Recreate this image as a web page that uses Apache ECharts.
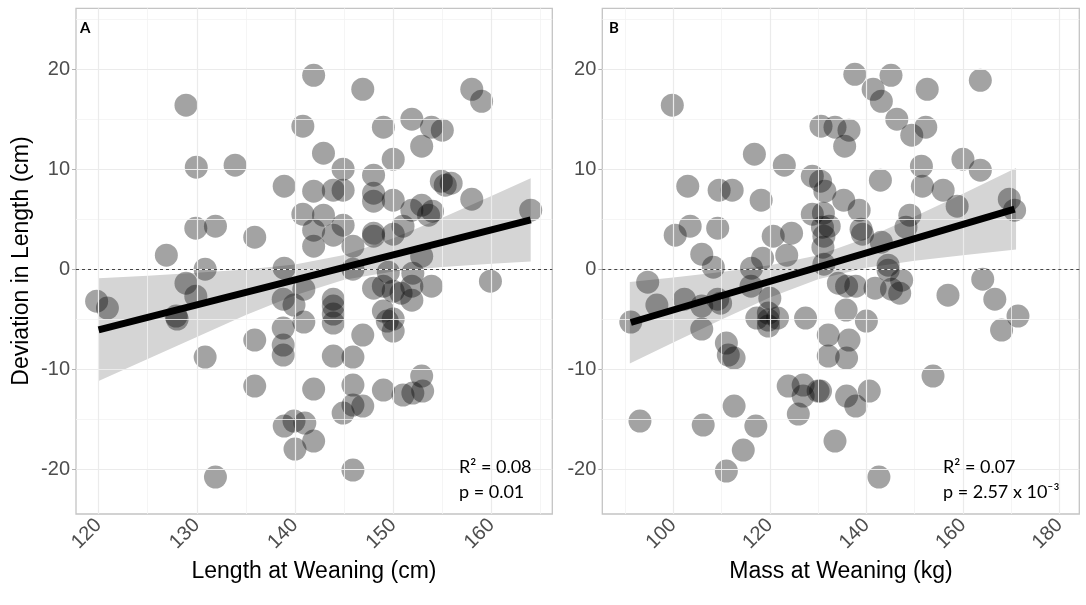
<!DOCTYPE html>
<html><head><meta charset="utf-8">
<script src="https://cdn.jsdelivr.net/npm/echarts@6/dist/echarts.min.js"></script>
<style>html,body{margin:0;padding:0;background:#fff}#c{width:1086px;height:605px}</style>
</head><body><div id="c"></div>
<script>
// Panel A: Length at weaning (cm) vs deviation in length (cm)
const lengthX = [119.8,120.9,126.9,127.9,128.0,128.9,128.9,129.9,129.95,129.9,
  130.85,130.85,131.9,131.9,133.9,135.9,135.9,135.9,138.9,138.9,
  138.8,139.9,138.8,138.8,138.8,138.9,139.9,140.0,140.8,140.8,
  140.9,140.9,141.0,141.9,141.9,141.9,141.9,141.9,141.9,142.9,
  142.9,143.9,143.9,143.9,143.9,143.9,143.9,143.9,144.9,144.9,
  144.9,144.9,145.9,145.9,145.9,145.9,145.9,145.9,146.9,146.9,
  146.9,148.0,148.0,148.0,148.0,148.0,148.0,149.0,149.0,149.0,
  149.0,149.4,150.0,150.0,150.0,150.0,150.0,150.0,150.8,151.0,
  151.0,151.9,151.9,151.9,151.9,152.0,152.9,152.9,152.9,152.9,
  153.0,153.9,154.0,153.9,155.0,154.9,155.9,158.0,158.0,159.0,
  159.9,164.0,149.5,152.0,155.3,153.6];
const lengthDev = [-3.2,-3.9,1.4,-4.7,-5.0,16.4,-1.4,-2.7,10.2,4.1,
  0.0,-8.8,4.3,-20.8,10.4,3.2,-7.1,-11.7,8.3,0.1,
  -3.0,-3.6,-5.9,-7.6,-8.6,-15.7,-15.2,-18.0,14.3,5.5,
  -2.0,-5.3,-15.4,19.4,7.8,3.9,2.3,-12.0,-17.2,11.6,
  5.4,3.4,7.9,-3.0,-3.7,-4.5,-5.4,-8.7,10.0,7.9,
  4.4,-14.4,2.3,0.0,-8.8,-11.6,-13.6,-20.1,18.0,-6.6,
  -13.7,9.4,7.6,6.8,3.6,3.3,-1.9,14.2,-1.7,-4.2,
  -12.1,-5.2,11.0,6.9,3.5,-2.2,-5.0,-6.2,-2.4,4.3,
  -12.6,15.0,5.9,-1.7,-3.1,-12.4,12.3,6.4,1.3,-10.7,
  -12.2,14.2,5.8,-1.7,13.9,8.8,8.6,7.0,18.0,16.8,
  -1.2,5.9,-0.3,-0.4,8.4,5.4];

// Panel B: Mass at weaning (kg) vs deviation in length (cm)
const massX = [91.2,93.1,94.7,96.6,99.8,100.4,102.3,103.0,103.5,105.9,
  105.9,105.9,106.2,108.3,109.2,109.5,109.2,109.8,111.0,111.4,
  112.6,111.0,112.2,112.6,114.5,116.2,116.1,116.8,117.1,117.3,
  118.2,118.5,119.7,119.7,119.7,120.0,120.7,121.6,123.0,123.5,
  124.5,123.8,125.9,126.9,126.9,127.4,128.8,128.8,130.0,130.5,
  130.6,130.5,131.4,131.1,130.9,132.3,131.2,131.0,131.2,132.1,
  132.1,133.5,133.5,134.2,135.5,135.3,135.9,135.8,135.9,135.9,
  136.4,136.4,137.6,137.8,137.8,138.5,138.9,139.2,140.0,140.6,
  141.4,141.8,142.6,142.9,143.1,143.1,144.5,144.5,145.1,145.2,
  146.3,146.9,147.3,148.2,149.0,149.4,151.4,151.6,152.3,152.6,
  153.8,155.9,156.9,158.8,160.0,163.6,163.6,164.1,166.6,168.0,
  169.6,170.7,171.4];
const massDev = [-5.3,-15.2,-1.3,-3.6,16.4,3.4,-3.0,8.3,4.3,1.5,
  -3.7,-6.0,-15.6,0.2,4.1,7.9,-3.0,-3.4,-7.4,-8.6,
  -8.9,-20.2,7.9,-13.7,-18.1,0.1,-1.7,11.5,-15.7,-4.9,
  6.9,1.1,-4.4,-5.1,-5.7,-2.9,3.3,-4.9,10.4,1.4,
  3.6,-11.7,-14.5,-11.6,-12.7,-4.9,9.3,5.5,-12.2,-12.2,
  14.3,8.8,7.8,5.6,4.2,4.3,3.3,2.2,0.5,-6.6,
  -8.7,-17.2,14.2,-1.4,12.3,6.9,-1.7,-4.1,-8.9,-12.7,
  13.9,-7.1,19.5,-1.7,-13.7,5.9,4.0,3.5,-5.2,-12.2,
  18.0,-1.9,-20.8,8.9,16.8,2.7,0.4,-0.1,19.4,-2.0,
  15.0,-2.4,-1.1,4.2,5.4,13.4,10.3,8.3,14.2,18.0,
  -10.7,7.9,-2.6,6.3,11.0,18.9,9.9,-1.0,-3.0,-6.1,
  7.0,5.9,-4.7];

// Fitted lines and 95% confidence bands
const fitLengthX = [120, 164];
const fitLengthY = [-6.07, 4.93];
const bandLengthX  = [120, 125, 130, 135, 140, 145, 150, 155, 160, 164];
const bandLengthLo = [-11.2, -9.0, -6.8, -4.6, -2.6, -1.05, -0.23, 0.21, 0.54, 0.76];
const bandLengthHi = [-0.9, -0.65, -0.37, -0.03, 0.46, 1.41, 3.09, 5.15, 7.32, 9.1];

const fitMassX = [91.2, 170.7];
const fitMassY = [-5.34, 6.0];
const bandMassX  = [91, 100, 110, 120, 130, 140, 150, 160, 171];
const bandMassLo = [-9.45, -7.34, -5.03, -2.84, -1.01, 0.13, 0.84, 1.4, 1.96];
const bandMassHi = [-1.29, -0.84, -0.29, 0.38, 1.39, 3.11, 5.26, 7.54, 10.12];

// Ticks and grid lines
const yTicks = [-20, -10, 0, 10, 20];
const yMinor = [-15, -5, 5, 15, 25];
const lengthTicks = [120, 130, 140, 150, 160];
const lengthMinor = [125, 135, 145, 155, 165];
const massTicks = [100, 120, 140, 160, 180];
const massMinor = [90, 110, 130, 150, 170];

const chart = echarts.init(document.getElementById('c'), null, {renderer: 'canvas'});
const FONT = 'Liberation Sans';

function xAxis(idx, min, max, ticks) {
  return {
    type: 'value', gridIndex: idx, min: min, max: max,
    axisLine: {show: false}, splitLine: {show: false},
    axisTick: {show: true, customValues: ticks, length: 4, lineStyle: {color: '#b3b3b3', width: 1}},
    axisLabel: {customValues: ticks, rotate: 45, fontSize: 20, color: '#4d4d4d', fontFamily: FONT, margin: 8}
  };
}
function yAxis(idx) {
  return {
    type: 'value', gridIndex: idx, min: -24.5, max: 26.1,
    axisLine: {show: false}, splitLine: {show: false},
    axisTick: {show: true, customValues: yTicks, length: 4, lineStyle: {color: '#b3b3b3', width: 1}},
    axisLabel: {customValues: yTicks, fontSize: 20, color: '#4d4d4d', fontFamily: FONT, margin: 6}
  };
}
function gridLines(idx, xMajor, xMinor) {
  const data = [];
  xMinor.forEach(v => data.push({xAxis: v, lineStyle: {color: '#f2f2f2', width: 0.8, type: 'solid'}}));
  yMinor.forEach(v => data.push({yAxis: v, lineStyle: {color: '#f2f2f2', width: 0.8, type: 'solid'}}));
  xMajor.forEach(v => data.push({xAxis: v, lineStyle: {color: '#ebebeb', width: 1.2, type: 'solid'}}));
  yTicks.forEach(v => data.push({yAxis: v, lineStyle: {color: '#ebebeb', width: 1.2, type: 'solid'}}));
  return {
    type: 'line', xAxisIndex: idx, yAxisIndex: idx, data: [], z: 1, silent: true,
    markLine: {silent: true, symbol: ['none', 'none'], label: {show: false}, animation: false, data: data}
  };
}
function zeroLine(idx) {
  return {
    type: 'line', xAxisIndex: idx, yAxisIndex: idx, data: [], z: 3, silent: true,
    markLine: {silent: true, symbol: ['none', 'none'], label: {show: false}, animation: false,
      data: [{yAxis: 0, lineStyle: {color: '#444', width: 1, type: [3, 3]}}]}
  };
}
function band(idx, bx, lo, hi) {
  return {
    type: 'custom', xAxisIndex: idx, yAxisIndex: idx, z: 2, silent: true, data: [[bx[0], lo[0]]],
    renderItem: function (params, api) {
      const pts = [];
      for (let i = 0; i < bx.length; i++) pts.push(api.coord([bx[i], hi[i]]));
      for (let i = bx.length - 1; i >= 0; i--) pts.push(api.coord([bx[i], lo[i]]));
      return {type: 'polygon', shape: {points: pts, smooth: 0}, style: {fill: '#d5d5d5'}};
    }
  };
}
function points(idx, xs, ys) {
  return {
    type: 'scatter', xAxisIndex: idx, yAxisIndex: idx, z: 4, symbol: 'circle', symbolSize: 23,
    data: xs.map((x, i) => [x, ys[i]]),
    itemStyle: {color: 'rgba(0,0,0,0.45)', borderWidth: 0}
  };
}
function fit(idx, xs, ys) {
  return {
    type: 'line', xAxisIndex: idx, yAxisIndex: idx, z: 5, symbol: 'none', silent: true,
    data: xs.map((x, i) => [x, ys[i]]),
    lineStyle: {color: '#000', width: 7, cap: 'butt'}
  };
}
function txt(x, y, text, opts) {
  return Object.assign({type: 'text', x: x, y: y, silent: true, z: 10,
    style: Object.assign({text: text, fill: '#000', fontFamily: FONT, fontSize: 23, align: 'left', verticalAlign: 'middle'}, opts || {})});
}

chart.setOption({
  animation: false,
  backgroundColor: '#fff',
  grid: [
    {left: 76, right: 533.7, top: 8.3, bottom: 91, show: true, borderColor: '#c4c4c4', borderWidth: 1.3, backgroundColor: '#fff'},
    {left: 602.3, right: 6.7, top: 8.3, bottom: 91, show: true, borderColor: '#c4c4c4', borderWidth: 1.3, backgroundColor: '#fff'}
  ],
  xAxis: [xAxis(0, 117.7, 166.2, lengthTicks), xAxis(1, 85.3, 184.1, massTicks)],
  yAxis: [yAxis(0), yAxis(1)],
  series: [
    gridLines(0, lengthTicks, lengthMinor), gridLines(1, massTicks, massMinor),
    band(0, bandLengthX, bandLengthLo, bandLengthHi), band(1, bandMassX, bandMassLo, bandMassHi),
    zeroLine(0), zeroLine(1),
    points(0, lengthX, lengthDev), points(1, massX, massDev),
    fit(0, fitLengthX, fitLengthY), fit(1, fitMassX, fitMassY)
  ],
  graphic: [
    Object.assign(txt(22, 261, 'Deviation in Length (cm)', {align: 'center'}), {rotation: Math.PI / 2}),
    txt(314, 572, 'Length at Weaning (cm)', {align: 'center'}),
    txt(841, 572, 'Mass at Weaning (kg)', {align: 'center'}),
    txt(80, 28, 'A', {fontFamily: 'Lato', fontWeight: 'bold', fontSize: 15}),
    txt(609, 28, 'B', {fontFamily: 'Lato', fontWeight: 'bold', fontSize: 15}),
    txt(459, 467, 'R\u00b2 = 0.08', {fontFamily: 'Lato', fontSize: 18}),
    txt(459, 492, 'p = 0.01', {fontFamily: 'Lato', fontSize: 18}),
    txt(943, 467, 'R\u00b2 = 0.07', {fontFamily: 'Lato', fontSize: 18}),
    txt(943, 492, 'p = 2.57 x 10\u207b\u00b3', {fontFamily: 'Lato', fontSize: 18})
  ]
});
</script></body></html>
